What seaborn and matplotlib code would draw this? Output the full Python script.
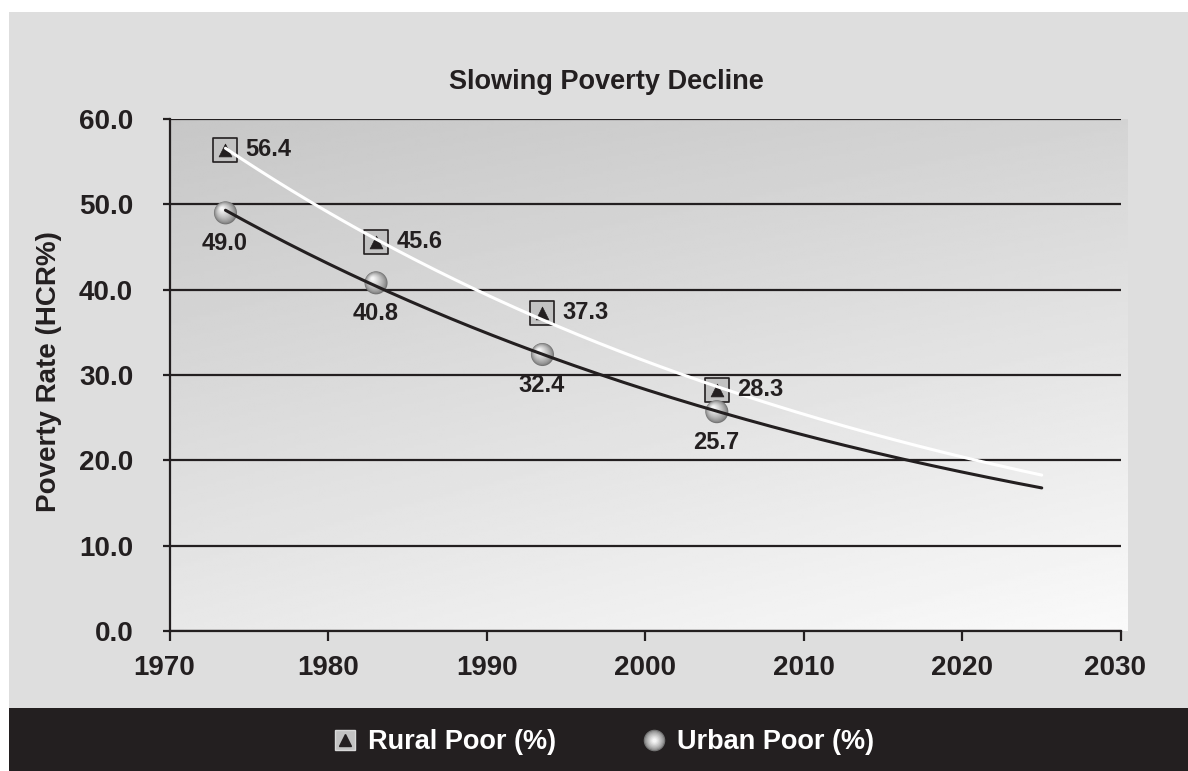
import numpy as np
import pandas as pd
import matplotlib
matplotlib.use("Agg")
import matplotlib.pyplot as plt
import matplotlib.transforms as mtransforms
from matplotlib.lines import Line2D
from matplotlib.legend_handler import HandlerTuple
from matplotlib.patches import Rectangle
from matplotlib.ticker import FormatStrFormatter
import seaborn as sns

# ---- data -------------------------------------------------------------
survey_years = [1973.5, 1983.0, 1993.5, 2004.5]
rural_poor = [56.4, 45.6, 37.3, 28.3]
urban_poor = [49.0, 40.8, 32.4, 25.7]
trend_end_year = 2025
x_ticks = [1970, 1980, 1990, 2000, 2010, 2020, 2030]
y_ticks = [0, 10, 20, 30, 40, 50, 60]

TEXT = "#231f20"
PANEL = "#dedede"
BAND = "#231f20"

sns.set_theme(style="white")
plt.rcParams["font.family"] = ["Liberation Sans", "DejaVu Sans"]
plt.rcParams["font.weight"] = "bold"
plt.rcParams["axes.labelweight"] = "bold"
plt.rcParams["axes.titleweight"] = "bold"
plt.rcParams["text.color"] = TEXT
plt.rcParams["axes.labelcolor"] = TEXT
plt.rcParams["xtick.color"] = TEXT
plt.rcParams["ytick.color"] = TEXT

W, H = 1188, 771
fig = plt.figure(figsize=(W / 100, H / 100), dpi=100, facecolor="white")

# grey panel and dark legend band
fig.patches.append(Rectangle((9 / W, 1 - 709 / H), 1 - 9 / W, (709 - 12) / H,
                             transform=fig.transFigure, facecolor=PANEL,
                             edgecolor="none", zorder=-10))
fig.patches.append(Rectangle((9 / W, 0), 1 - 9 / W, 1 - 709 / H + 0.001,
                             transform=fig.transFigure, facecolor=BAND,
                             edgecolor="none", zorder=-10))

ax = fig.add_axes([170 / W, 1 - 631 / H, 951 / W, 512 / H])
ax.patch.set_visible(False)
ax.set_xlim(x_ticks[0], x_ticks[-1])
ax.set_ylim(y_ticks[0], y_ticks[-1])

# diagonal grey gradient inside the plot area
u = np.linspace(0, 1, 300)[None, :]
v = np.linspace(0, 1, 200)[:, None]
shade = 0.78 + 0.05 * u + 0.13 * v + 0.02 * u * v
ax.imshow(shade, cmap="gray", vmin=0, vmax=1, aspect="auto",
          extent=[x_ticks[0], x_ticks[-1] + 0.4, y_ticks[0], y_ticks[-1]],
          origin="upper", zorder=-1, clip_on=False, interpolation="bilinear")

ax.set_axisbelow(True)
ax.yaxis.grid(True, color=TEXT, linewidth=1.6)
ax.xaxis.grid(False)
for side in ["top", "right"]:
    ax.spines[side].set_visible(False)
for side in ["left", "bottom"]:
    ax.spines[side].set_color(TEXT)
    ax.spines[side].set_linewidth(1.6)

# exponential trend lines fitted to each series, extended to trend_end_year
years = np.array(survey_years)
fit_x = np.linspace(survey_years[0], trend_end_year, 200)
trend_frames = []
for name, vals in [("Rural", rural_poor), ("Urban", urban_poor)]:
    b, a = np.polyfit(years, np.log(vals), 1)
    trend_frames.append(pd.DataFrame({"year": fit_x,
                                      "rate": np.exp(a + b * fit_x),
                                      "series": name}))
trend = pd.concat(trend_frames, ignore_index=True)

df = pd.DataFrame({"year": survey_years, "rural": rural_poor, "urban": urban_poor})

# rural markers: grey box with a dark triangle
sns.scatterplot(data=df, x="year", y="rural", marker="s", s=300,
                color="#c2c2c2", edgecolor=TEXT, linewidth=1.2, zorder=3, ax=ax)
sns.scatterplot(data=df, x="year", y="rural", marker="^", s=85,
                color=TEXT, edgecolor=TEXT, linewidth=0.5, zorder=4, ax=ax)

# urban markers: shaded sphere built from stacked discs
D = 16.6
n_layers = 14
for i in range(n_layers):
    t = i / (n_layers - 1)
    d = D * (1 - 0.85 * t)
    off = mtransforms.offset_copy(ax.transData, fig=fig,
                                  x=-0.30 * t * D / 2, y=0.36 * t * D / 2,
                                  units="points")
    g = 0.46 + 0.50 * t ** 0.7
    ax.scatter(df["year"], df["urban"], s=d ** 2, color=(g, g, g),
               edgecolors="none", zorder=3 + 0.01 * i, transform=off)

sns.lineplot(data=trend, x="year", y="rate", hue="series",
             palette={"Rural": "white", "Urban": TEXT}, linewidth=2.2,
             legend=False, zorder=5, ax=ax)

# value labels
for x, val in zip(survey_years, rural_poor):
    ax.annotate(f"{val:.1f}", (x, val), xytext=(14.5, 0),
                textcoords="offset points", ha="left", va="center",
                fontsize=17, fontweight="bold", color=TEXT, zorder=6)
for x, val in zip(survey_years, urban_poor):
    ax.annotate(f"{val:.1f}", (x, val), xytext=(-0.5, -22),
                textcoords="offset points", ha="center", va="center",
                fontsize=17, fontweight="bold", color=TEXT, zorder=6)

ax.set_xticks(x_ticks)
ax.set_yticks(y_ticks)
ax.yaxis.set_major_formatter(FormatStrFormatter("%.1f"))
ax.tick_params(axis="y", left=True, direction="out", length=5, width=1.6,
               pad=21.5, labelsize=20)
ax.tick_params(axis="x", bottom=True, direction="out", length=7.5, width=1.6,
               pad=10, labelsize=20)
xlabels = ax.get_xticklabels()
for lab in xlabels + ax.get_yticklabels():
    lab.set_fontweight("bold")
# end labels sit slightly left of their ticks
shift = mtransforms.ScaledTranslation(-6 / 100, 0, fig.dpi_scale_trans)
for lab in (xlabels[0], xlabels[-1]):
    lab.set_transform(lab.get_transform() + shift)

ax.set_xlabel("")
ax.set_ylabel("Poverty Rate (HCR%)", fontsize=20, fontweight="bold", va="center")
ax.yaxis.set_label_coords((49 - 170) / 951, 0.506)
ax.set_title("Slowing Poverty Decline", fontsize=19.5, fontweight="bold",
             x=(606 - 170) / 951, pad=21.4, color=TEXT)

# legend in the dark band
rural_handle = (Line2D([], [], marker="s", ms=14, mfc="#c2c2c2", mec="#d8d8d8",
                       ls="none"),
                Line2D([], [], marker="^", ms=8, color=TEXT, ls="none"))
sphere_parts = []
for i in range(8):
    t = i / 7
    g = 0.46 + 0.50 * t ** 0.7
    sphere_parts.append(Line2D([], [], marker="o", ms=15.5 * (1 - 0.8 * t),
                               mfc=(g, g, g), mec="none", ls="none"))
urban_handle = tuple(sphere_parts)
leg = fig.legend([rural_handle, urban_handle], ["Rural Poor (%)", "Urban Poor (%)"],
                 handler_map={tuple: HandlerTuple(ndivide=1, pad=0)},
                 loc="center", bbox_to_anchor=(603 / W, 1 - 742 / H),
                 ncol=2, frameon=False, handlelength=1.0, handletextpad=0.35,
                 columnspacing=3.1, prop={"size": 19.5, "weight": "bold"})
for txt in leg.get_texts():
    txt.set_color("white")

fig.savefig("out.png", dpi=100, facecolor=fig.get_facecolor())
